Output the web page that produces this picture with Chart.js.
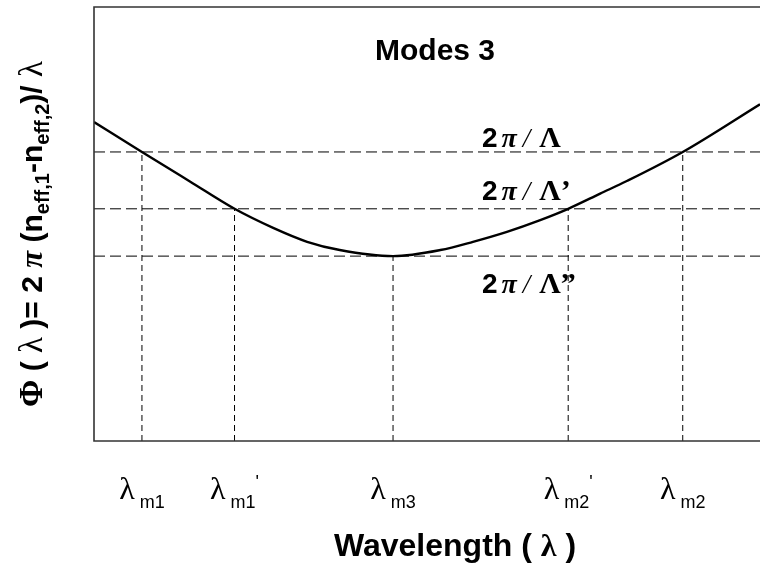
<!DOCTYPE html>
<html lang="en">
<head>
    <meta charset="UTF-8">
    <title>Modes 3</title>
    <script src="https://cdn.jsdelivr.net/npm/chart.js"></script>
    <style>
        body { margin: 0; background: #fff; }
        #wrap { width: 760px; height: 568px; }
    </style>
</head>
<body>
    <div id="wrap"><canvas id="myChart" width="760" height="568"></canvas></div>

    <script>
        // Phase mismatch curve (arbitrary units, 0..100 on both axes)
        const curveX = [0, 7.2, 14.4, 21.1, 26.9, 32.0, 36.9, 44.9, 52.0, 56.9, 62.0, 67.0, 71.2, 76.0, 80.0, 88.4, 100];
        const curveY = [73.5, 66.6, 59.8, 53.5, 49.1, 45.9, 44.0, 42.6, 44.0, 45.9, 48.2, 50.9, 53.5, 57.0, 59.9, 66.6, 77.6];

        // grating levels 2pi/Lambda, 2pi/Lambda', 2pi/Lambda''
        const levels = [66.6, 53.5, 42.6];
        const levelMarks = ['', '\u2019', '\u201D'];

        // resonance wavelengths and the level each one sits on
        const lambdaX = [7.2, 21.1, 44.9, 71.2, 88.4];
        const lambdaSub = ['m1', 'm1', 'm3', 'm2', 'm2'];
        const lambdaPrime = [false, true, false, true, false];
        const lambdaLevel = [0, 1, 2, 1, 0];

        const SANS = '"Liberation Sans", Arial, sans-serif';
        const SERIF = '"Liberation Serif", "Times New Roman", serif';

        function drawRuns(ctx, runs, x, y, align) {
            let total = 0;
            runs.forEach(r => {
                ctx.font = r.font;
                r.w = ctx.measureText(r.text).width + (r.gap || 0);
                total += r.w;
            });
            let cx = align === 'center' ? x - total / 2 : x;
            runs.forEach(r => {
                ctx.font = r.font;
                ctx.fillText(r.text, cx, y + (r.dy || 0));
                cx += r.w;
            });
        }

        const textPlugin = {
            id: 'textPlugin',
            afterDraw(chart) {
                const ctx = chart.ctx;
                const area = chart.chartArea;
                const xs = chart.scales.x;
                const ys = chart.scales.y;
                ctx.save();

                // frame (right side falls on the picture edge)
                ctx.strokeStyle = '#333';
                ctx.lineWidth = 1.6;
                ctx.beginPath();
                ctx.moveTo(area.right, area.top);
                ctx.lineTo(area.left, area.top);
                ctx.lineTo(area.left, area.bottom);
                ctx.lineTo(area.right, area.bottom);
                ctx.stroke();

                ctx.fillStyle = '#000';
                ctx.textBaseline = 'alphabetic';

                // title inside plot
                ctx.font = 'bold 30px ' + SANS;
                ctx.fillText('Modes 3', 375, 60);

                // level labels
                const labelX = 482;
                const offs = [-5, -9, 37];
                levels.forEach((lv, i) => {
                    const y = ys.getPixelForValue(lv) + offs[i];
                    drawRuns(ctx, [
                        { text: '2', font: 'bold 28px ' + SANS, gap: 4 },
                        { text: '\u03C0', font: 'bold italic 28px ' + SERIF, gap: 6 },
                        { text: '/', font: 'italic 27px ' + SERIF, gap: 9 },
                        { text: '\u039B' + levelMarks[i], font: 'bold 30px ' + SERIF }
                    ], labelX, y, 'left');
                });

                // x tick labels
                lambdaX.forEach((v, i) => {
                    const px = xs.getPixelForValue(v);
                    const runs = [
                        { text: '\u03BB', font: '32px ' + SERIF },
                        { text: ' ' + lambdaSub[i], font: '18px ' + SANS, dy: 9 }
                    ];
                    if (lambdaPrime[i]) runs.push({ text: "'", font: '18px ' + SANS, dy: -11 });
                    drawRuns(ctx, runs, px, 499, 'center');
                });

                // x axis title
                drawRuns(ctx, [
                    { text: 'Wavelength ( ', font: 'bold 32px ' + SANS },
                    { text: '\u03BB', font: 'bold 32px ' + SERIF },
                    { text: ' )', font: 'bold 32px ' + SANS }
                ], 455, 556, 'center');

                // y axis title
                ctx.translate(42, 234);
                ctx.rotate(-Math.PI / 2);
                const B = 'bold 30px ' + SANS;
                const S = 'bold 20px ' + SANS;
                const G = '33px ' + SERIF;
                drawRuns(ctx, [
                    { text: '\u03A6', font: 'bold 33px ' + SERIF },
                    { text: ' ( ', font: B },
                    { text: '\u03BB', font: G },
                    { text: ' )= 2 ', font: B },
                    { text: '\u03C0', font: 'bold italic 31px ' + SERIF },
                    { text: ' (n', font: B },
                    { text: 'eff,1', font: S, dy: 7 },
                    { text: '-n', font: B },
                    { text: 'eff,2', font: S, dy: 7 },
                    { text: ')/ ', font: B },
                    { text: '\u03BB', font: G }
                ], 0, 0, 'center');

                ctx.restore();
            }
        };

        const datasets = [];

        // horizontal dashed levels across the whole plot
        levels.forEach(lv => {
            datasets.push({
                data: [{ x: 0, y: lv }, { x: 100, y: lv }],
                borderColor: '#000',
                borderWidth: 1,
                borderDash: [11, 5],
                pointRadius: 0,
                showLine: true
            });
        });

        // vertical dashed drop lines
        lambdaX.forEach((v, i) => {
            datasets.push({
                data: [{ x: v, y: 0 }, { x: v, y: levels[lambdaLevel[i]] }],
                borderColor: '#000',
                borderWidth: 1,
                borderDash: [6, 4],
                pointRadius: 0,
                showLine: true
            });
        });

        // the curve
        datasets.push({
            data: curveX.map((x, i) => ({ x: x, y: curveY[i] })),
            borderColor: '#000',
            borderWidth: 2.4,
            pointRadius: 0,
            showLine: true,
            cubicInterpolationMode: 'monotone'
        });

        new Chart(document.getElementById('myChart'), {
            type: 'scatter',
            data: { datasets: datasets },
            options: {
                responsive: false,
                animation: false,
                devicePixelRatio: 1,
                layout: { padding: { left: 94, top: 7, right: 0, bottom: 127 } },
                scales: {
                    x: { type: 'linear', min: 0, max: 100, display: false },
                    y: { type: 'linear', min: 0, max: 100, display: false }
                },
                plugins: {
                    legend: { display: false },
                    tooltip: { enabled: false }
                }
            },
            plugins: [textPlugin]
        });
    </script>
</body>
</html>
